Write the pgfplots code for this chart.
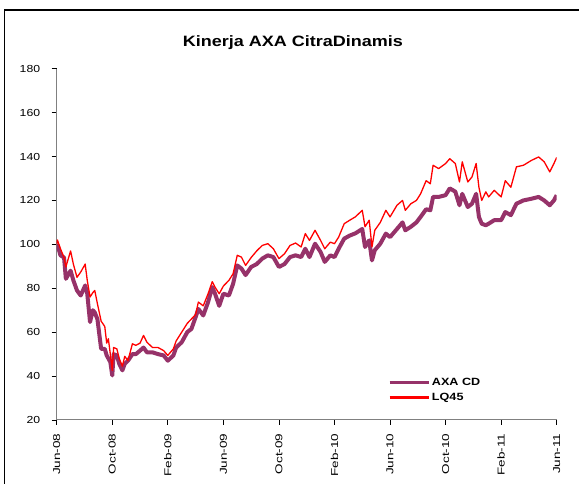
\documentclass[border=0pt]{standalone}
\usepackage{fontspec}
\setmainfont{Liberation Sans}[FakeStretch=1.2, BoldFeatures={FakeStretch=1.2}]
\newfontfamily\xlab{Liberation Sans}[FakeStretch=1.35]
\usepackage{pgfplots}
\pgfplotsset{compat=1.18}
\definecolor{axa}{RGB}{150,50,105}
\begin{document}
\begin{tikzpicture}[x=1pt,y=1pt]
\useasboundingbox (0,0) rectangle (579,484);
\draw[line width=1.2pt] (4.4,-2) -- (4.4,474) -- (582,474);
\node[font=\bfseries\fontsize{15}{18}\selectfont] at (293,441.3) {Kinerja AXA CitraDinamis};
\begin{axis}[
  at={(56.7pt,64pt)}, anchor=south west, scale only axis,
  width=500pt, height=351.3pt,
  xmin=0, xmax=36, ymin=20, ymax=180,
  xtick={0,4,...,36},
  xticklabels={Jun-08,Oct-08,Feb-09,Jun-09,Oct-09,Feb-10,Jun-10,Oct-10,Feb-11,Jun-11},
  xticklabel style={yshift=-5pt, rotate=90, anchor=east, font=\xlab\fontsize{10}{12}\selectfont},
  ytick={20,40,...,180},
  yticklabel style={xshift=-8pt, font=\fontsize{10.2}{12}\selectfont},
  /pgf/number format/assume math mode=true,
  axis x line*=bottom, axis y line*=left,
  axis line style={gray, line width=1pt},
  tick style={black, line width=0.8pt},
  tick align=outside, major tick length=5pt,
  legend style={at={(0.663,0.125)}, anchor=north west, draw=none, fill=none,
    font=\bfseries\fontsize{10.5}{12}\selectfont, row sep=2pt, inner sep=0pt,
    nodes={inner sep=2pt}},
  legend cell align=left,
  legend image code/.code={\draw[#1, line width=2.6pt] (0pt,0pt) -- (39pt,0pt);},
]
\addplot[axa, line width=4pt, line join=round] coordinates {
(0,100)(0.1,98.8)(0.27,95)(0.53,94)(0.66,84.3)(1.0,88)(1.2,83.6)(1.46,79)(1.73,76.7)(2.05,81.3)(2.2,77.5)(2.4,64.6)(2.6,70)(2.74,69)(2.93,66)(3.2,52.4)(3.46,52.4)(3.6,49.4)(3.86,46.4)(4.0,40.3)(4.1,50)(4.33,49.4)(4.5,45.6)(4.73,42.6)(4.9,45.6)(5.13,47)(5.45,50)(5.7,50)(6.0,51.6)(6.25,53)(6.5,50.8)(6.9,50.8)(7.3,50)(7.7,49.4)(8.0,47)(8.4,49.4)(8.6,53)(9.0,55.4)(9.4,60)(9.7,61.5)(10.0,66.8)(10.2,70.6)(10.55,67.6)(10.9,73.7)(11.2,80.5)(11.4,77.5)(11.7,72)(12.0,77.5)(12.4,76.7)(12.7,82)(13.0,90.4)(13.3,89)(13.6,86)(14.0,89.7)(14.4,91)(14.8,93.5)(15.2,95)(15.6,94.2)(16.0,89.7)(16.4,91)(16.8,94.2)(17.2,95)(17.6,94.2)(17.9,98)(18.2,94.2)(18.6,100.3)(19.0,96.5)(19.3,92)(19.7,95)(20.0,94.2)(20.3,98)(20.7,102.6)(21.1,104)(21.5,105)(22.0,107)(22.2,98.8)(22.5,101.8)(22.7,92.7)(22.9,97.3)(23.3,100.3)(23.7,104.9)(24.0,103.3)(24.5,107)(24.9,110)(25.1,106.4)(25.5,108)(25.9,110)(26.2,112.5)(26.6,116)(26.9,115.5)(27.1,121.6)(27.5,121.6)(28.0,122.4)(28.3,125.5)(28.7,124)(29.0,117.8)(29.2,123)(29.6,117)(29.9,118.5)(30.2,123)(30.4,112.5)(30.6,109.4)(30.9,108.7)(31.1,109.4)(31.5,111)(32.0,111)(32.3,114.7)(32.7,113.3)(33.1,118.5)(33.6,120)(34.2,120.8)(34.7,121.6)(35.1,120)(35.5,117.8)(35.8,120)(36.0,122.4)
};
\addlegendentry{AXA CD}
\addplot[red, line width=1.3pt, line join=round] coordinates {
(0,100)(0.05,102)(0.27,98)(0.53,94)(0.66,89.7)(0.8,92.7)(1.0,97)(1.2,91)(1.46,85)(1.73,87.4)(2.05,91)(2.2,83.6)(2.4,76)(2.6,78)(2.74,79)(2.93,73)(3.2,65)(3.46,62.6)(3.6,55)(3.72,57)(3.86,50)(4.0,42.6)(4.1,53)(4.33,52.4)(4.5,48)(4.73,44.5)(4.9,49)(5.13,47)(5.45,54.7)(5.7,54)(6.0,55)(6.25,58.5)(6.5,55.4)(6.9,53)(7.3,53)(7.7,51.6)(8.0,49.4)(8.4,52.4)(8.6,56)(9.0,60)(9.4,64)(9.7,66)(10.0,68)(10.2,73.7)(10.55,72)(10.9,77.5)(11.2,83)(11.4,80.5)(11.7,77.5)(12.0,81)(12.4,83.6)(12.7,86.6)(13.0,95)(13.3,94.2)(13.6,90.4)(14.0,94)(14.4,97)(14.8,99.5)(15.2,100.3)(15.6,98)(16.0,93.5)(16.4,95.7)(16.8,99.5)(17.2,100.6)(17.6,98.8)(17.9,104.9)(18.2,101.8)(18.6,106.4)(19.0,101.8)(19.3,98)(19.7,101)(20.0,100.3)(20.3,103.3)(20.7,109.4)(21.1,111)(21.5,112.5)(22.0,115.5)(22.2,108)(22.5,111)(22.7,98.8)(22.9,106.4)(23.3,110)(23.7,115.5)(24.0,112.5)(24.5,117.8)(24.9,120)(25.1,115.5)(25.5,118.5)(25.9,120)(26.2,123)(26.6,129)(26.9,127.6)(27.1,136)(27.5,134.5)(28.0,136.8)(28.3,139)(28.7,136.8)(29.0,128.4)(29.2,137.6)(29.6,128.4)(29.9,130.7)(30.2,136.8)(30.4,126)(30.6,120)(30.9,123.9)(31.1,121.6)(31.5,124.6)(32.0,121.6)(32.3,129)(32.7,126)(33.1,135.3)(33.6,136)(34.2,138.3)(34.7,139.8)(35.1,137.6)(35.5,133)(35.8,136.8)(36.0,139.6)
};
\addlegendentry{LQ45}
\end{axis}
\end{tikzpicture}
\end{document}
